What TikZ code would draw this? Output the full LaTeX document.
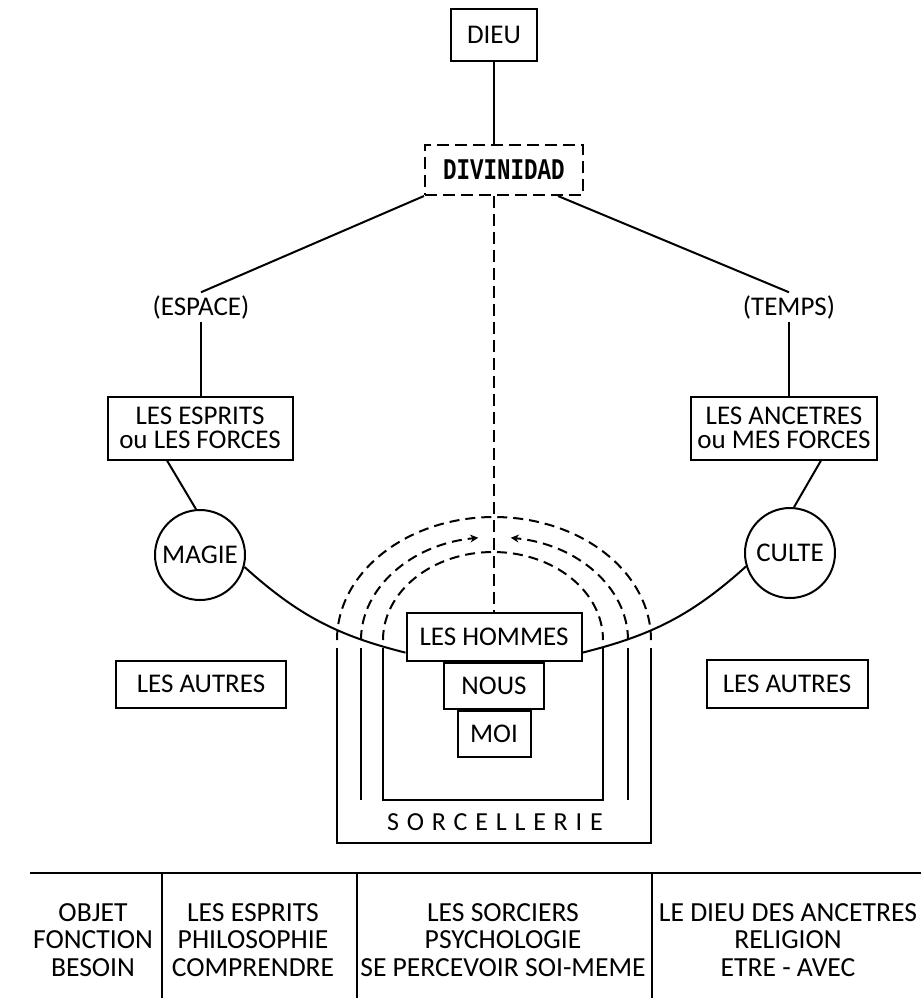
\documentclass[tikz,border=0pt]{standalone}
\usepackage{fontspec}
\setmainfont{Carlito}
\newfontfamily\typefont[FakeStretch=0.75]{Liberation Mono}
\newcommand\boxfont{\fontsize{13.5}{12}\selectfont}
\newcommand\bigfont{\fontsize{13.5}{13.5}\selectfont}
\newcommand\cellfont{\fontsize{13.8}{13.75}\selectfont}
\usepackage{tikz}
\usetikzlibrary{positioning, arrows.meta}

\begin{document}
\begin{tikzpicture}[x=0.5pt, y=0.5pt, line width=1pt,
  box/.style={draw, inner sep=0pt, align=center, font=\boxfont},
  ring/.style={draw, circle, inner sep=0pt, minimum size=45pt, font=\boxfont},
  word/.style={inner sep=1pt, font=\boxfont},
  cell/.style={align=center, inner sep=0pt, font=\cellfont},
  arch/.style={dash pattern=on 5pt off 3pt},
  tip/.style={-{Stealth[length=4pt,width=4pt]}}]
\useasboundingbox (0,0) rectangle (921,-998);
% top of the scheme
\node[box, minimum width=43pt, minimum height=26pt] (dieu) at (494,-35) {DIEU};
\node[box, dash pattern=on 6pt off 3pt, minimum width=79pt, minimum height=25pt,
  font=\typefont\bfseries\fontsize{15}{15}\selectfont] (divinidad) at (504,-170) {DIVINIDAD};
\node[word] (espace) at (201,-307) {(ESPACE)};
\node[word] (temps) at (789,-307) {(TEMPS)};
\node[box, minimum width=92.5pt, minimum height=31.5pt] (esprits) at (200,-428) {LES ESPRITS\\ou LES FORCES};
\node[box, minimum width=93pt, minimum height=31.5pt] (ancetres) at (784,-428) {LES ANCETRES\\ou MES FORCES};
\node[ring] (magie) at (200,-555) {MAGIE};
\node[ring] (culte) at (790,-553) {CULTE};
\node[box, minimum width=85pt, minimum height=23.5pt] (autresg) at (201,-684) {LES AUTRES};
\node[box, minimum width=80.5pt, minimum height=24pt] (autresd) at (787,-684) {LES AUTRES};
% the three boxes in the middle
\node[box, minimum width=87.5pt, minimum height=24pt, font=\bigfont] (hommes) at (494,-637) {LES HOMMES};
\node[box, minimum width=50pt, minimum height=23pt] (nous) [below=0pt of hommes] {NOUS};
\node[box, minimum width=36.5pt, minimum height=23pt] (moi) [below=0pt of nous] {MOI};
\node[word, font=\fontsize{13}{13}\selectfont\addfontfeatures{LetterSpace=30}] (sorcellerie) at (495,-822) {SORCELLERIE};

\draw (dieu) -- (dieu |- divinidad.north);
\draw[dash pattern=on 6pt off 3pt] (hommes |- divinidad.south) -- (hommes.north);
\draw (divinidad.south west) -- (espace.north);
\draw ([xshift=-13pt]divinidad.south east) -- (temps.north);
\draw (espace) -- (espace |- esprits.north);
\draw (temps) -- (temps |- ancetres.north);
\draw ([xshift=-16.5pt]esprits.south) -- (magie.95);
\draw ([xshift=18.5pt]ancetres.south) -- (culte.85);
\draw (magie.-15) to[out=-42, in=166] (hommes.190);
\draw (hommes.-10) to[out=14, in=222] (culte.197);

% arches
\draw[arch] (337,-640) arc[start angle=180, end angle=0, x radius=78.5pt, y radius=61.5pt];
\draw[arch, tip] (361,-640) arc[start angle=180, end angle=97, x radius=66.75pt, y radius=51.5pt];
\draw[arch, tip] (628,-640) arc[start angle=0, end angle=83, x radius=66.75pt, y radius=51.5pt];
\draw[arch] (383,-640) arc[start angle=180, end angle=0, x radius=55pt, y radius=44pt];
\draw (337,-648) -- (337,-843) -- (651,-843) -- (651,-648);
\draw (361,-648) -- (361,-800);
\draw (628,-648) -- (628,-800);
\draw (383,-648) -- (383,-800) -- (603,-800) -- (603,-648);

% table
\draw (30,-873) -- (921,-873);
\foreach \x in {162,357,652}
  \draw (\x,-873) -- (\x,-998);
\node[cell] (objet) at (93,-940) {OBJET\\FONCTION\\BESOIN};
\node[cell] (philo) at (253,-940) {LES ESPRITS\\PHILOSOPHIE\\COMPRENDRE};
\node[cell] (psycho) at (503,-940) {LES SORCIERS\\PSYCHOLOGIE\\SE PERCEVOIR SOI-MEME};
\node[cell] (religion) at (788,-940) {LE DIEU DES ANCETRES\\RELIGION\\ETRE - AVEC};
\end{tikzpicture}
\end{document}
